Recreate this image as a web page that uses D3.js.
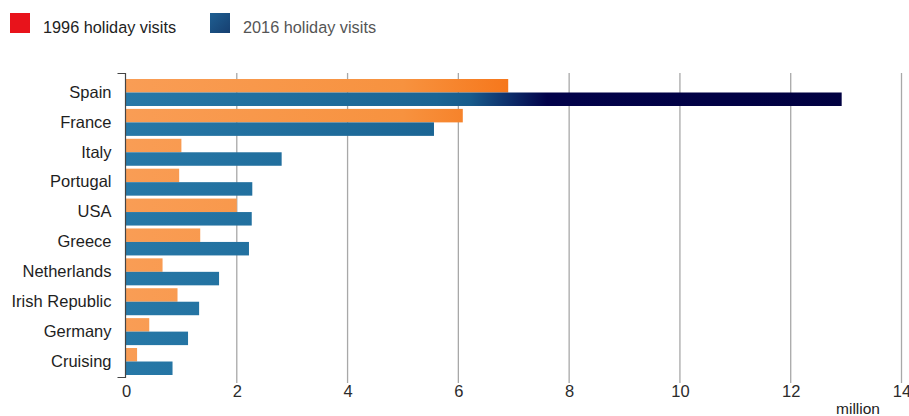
<!DOCTYPE html>
<html>
<head>
<meta charset="utf-8">
<script src="https://cdn.jsdelivr.net/npm/d3@7"></script>
<style>
  body { margin: 0; background: #fff; }
  svg { display: block; font-family: "Liberation Sans", Arial, Helvetica, sans-serif; }
</style>
</head>
<body>
<script>
(function (d3) {
  "use strict";

  /***** Data *****/
  var countries = ["Spain", "France", "Italy", "Portugal", "USA", "Greece",
                   "Netherlands", "Irish Republic", "Germany", "Cruising"];
  var visits1996 = [6.9, 6.08, 1.0, 0.96, 2.0, 1.34, 0.66, 0.93, 0.42, 0.2];
  var visits2016 = [12.92, 5.56, 2.81, 2.28, 2.27, 2.22, 1.68, 1.32, 1.12, 0.84];
  var seriesNames = ["1996 holiday visits", "2016 holiday visits"];
  var xTicks = [0, 2, 4, 6, 8, 10, 12, 14];

  /***** Configuration *****/
  var width = 909, height = 416;

  var svg = d3.select("body").append("svg")
      .attr("width", width)
      .attr("height", height);

  var xScale = d3.scaleLinear().domain([0, 14]).range([126, 901.5]);
  var yScale = d3.scaleBand().domain(countries).range([79, 375]).paddingInner(0.097);
  var barH = yScale.bandwidth() / 2;

  /***** Gradients *****/
  var defs = svg.append("defs");
  var blueGrad = defs.append("linearGradient")
      .attr("id", "blueGrad")
      .attr("gradientUnits", "userSpaceOnUse")
      .attr("x1", xScale(0)).attr("x2", xScale(14))
      .attr("y1", 0).attr("y2", 0);
  [[0, "#2778a7"], [5.6, "#1b6594"], [6.2, "#185c8c"], [7.6, "#02024a"], [14, "#00003f"]]
    .forEach(function (s) {
      blueGrad.append("stop").attr("offset", s[0] / 14).attr("stop-color", s[1]);
    });

  var orangeGrad = defs.append("linearGradient")
      .attr("id", "orangeGrad")
      .attr("gradientUnits", "userSpaceOnUse")
      .attr("x1", xScale(0)).attr("x2", xScale(14))
      .attr("y1", 0).attr("y2", 0);
  [[0, "#f99d55"], [5, "#f7923f"], [7, "#f6761a"], [14, "#f6761a"]]
    .forEach(function (s) {
      orangeGrad.append("stop").attr("offset", s[0] / 14).attr("stop-color", s[1]);
    });

  var legendBlue = defs.append("linearGradient")
      .attr("id", "legendBlue")
      .attr("x1", 0).attr("x2", 1).attr("y1", 0).attr("y2", 1);
  legendBlue.append("stop").attr("offset", 0).attr("stop-color", "#1f5f92");
  legendBlue.append("stop").attr("offset", 1).attr("stop-color", "#163f70");

  /***** Legend *****/
  var legendFills = ["#e8131b", "url(#legendBlue)"];
  var legendX = [10, 210];
  var legendTextColor = ["#222", "#555"];
  seriesNames.forEach(function (name, i) {
    svg.append("rect")
        .attr("x", legendX[i]).attr("y", 13)
        .attr("width", 20).attr("height", 20)
        .attr("fill", legendFills[i]);
    svg.append("text")
        .attr("x", legendX[i] + 33).attr("y", 33)
        .attr("font-size", 16.3)
        .attr("fill", legendTextColor[i])
        .text(name);
  });

  /***** Grid lines *****/
  svg.append("g").selectAll("line")
      .data(xTicks.filter(function (t) { return t > 0; }))
      .join("line")
      .attr("x1", function (d) { return xScale(d); })
      .attr("x2", function (d) { return xScale(d); })
      .attr("y1", 73).attr("y2", 383)
      .attr("stroke", "#a8a8a8")
      .attr("stroke-width", 1.3);

  /***** Bars *****/
  var rows = countries.map(function (c, i) {
    return { name: c, v1: visits1996[i], v2: visits2016[i] };
  });

  svg.append("g").selectAll("rect")
      .data(rows)
      .join("rect")
      .attr("x", xScale(0))
      .attr("y", function (d) { return yScale(d.name); })
      .attr("width", function (d) { return xScale(d.v1) - xScale(0); })
      .attr("height", barH)
      .attr("fill", "url(#orangeGrad)");

  svg.append("g").selectAll("rect")
      .data(rows)
      .join("rect")
      .attr("x", xScale(0))
      .attr("y", function (d) { return yScale(d.name) + barH; })
      .attr("width", function (d) { return xScale(d.v2) - xScale(0); })
      .attr("height", barH)
      .attr("fill", "url(#blueGrad)");

  /***** Axes *****/
  var yAxis = svg.append("g")
      .attr("transform", "translate(" + (xScale(0) - 0.5) + ",0)")
      .call(d3.axisLeft(yScale).tickSize(0).tickSizeOuter(0).tickPadding(14));
  yAxis.select(".domain").remove();
  yAxis.append("path")
      .attr("d", "M-8,73.5H0V377.5H-8")
      .attr("fill", "none")
      .attr("stroke", "#444")
      .attr("stroke-width", 1.2);
  yAxis.selectAll(".tick text")
      .attr("font-size", 16.5)
      .attr("font-family", "'Liberation Sans', Arial, sans-serif")
      .attr("fill", "#1e1e1e");

  var xAxis = svg.append("g")
      .attr("transform", "translate(0,377)")
      .call(d3.axisBottom(xScale).tickValues(xTicks).tickSize(0).tickPadding(8));
  xAxis.select(".domain").remove();
  xAxis.selectAll(".tick text")
      .attr("font-size", 16.5)
      .attr("font-family", "'Liberation Sans', Arial, sans-serif")
      .attr("fill", "#2b2b2b");

  svg.append("text")
      .attr("x", 858).attr("y", 414)
      .attr("text-anchor", "middle")
      .attr("font-size", 15.5)
      .attr("fill", "#222")
      .text("million");

})(d3);
</script>
</body>
</html>
